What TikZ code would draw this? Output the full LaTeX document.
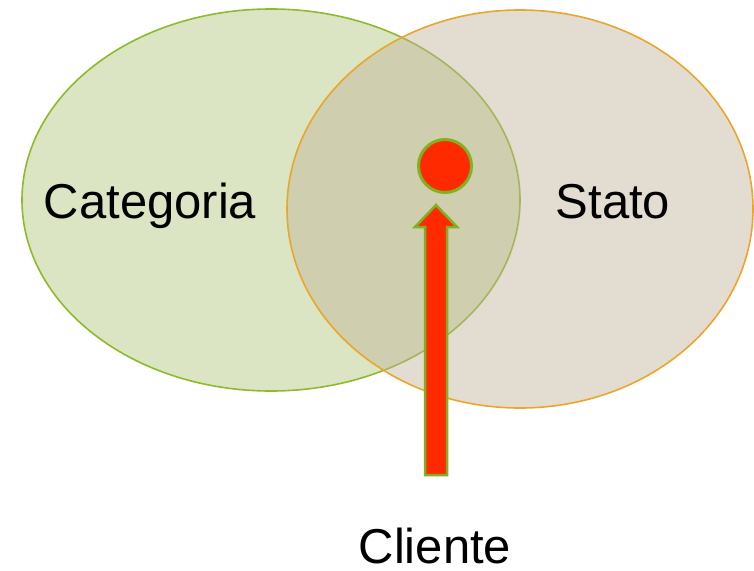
\documentclass[tikz,border=0pt]{standalone}
\usepackage{fontspec}
\setmainfont{Liberation Sans}
\usetikzlibrary{shapes.geometric}
\definecolor{gfill}{RGB}{220,229,195}
\definecolor{gline}{RGB}{141,187,42}
\definecolor{bfill}{RGB}{193,178,151}
\definecolor{oline}{RGB}{234,166,42}
\definecolor{redf}{RGB}{255,42,0}
\definecolor{aline}{RGB}{127,178,30}
\begin{document}
\begin{tikzpicture}[x=1pt,y=-1pt,
  setell/.style={ellipse,inner sep=0pt,line width=1.6pt},
  lbl/.style={font=\fontsize{49}{58}\selectfont,inner sep=0pt},
  redball/.style={circle,fill=redf,draw=aline,line width=3pt,minimum size=53pt,inner sep=0pt}]
\useasboundingbox (0,0) rectangle (754,570);
\node[setell,fill=gfill,draw=gline,minimum width=498pt,minimum height=382pt] (cat) at (271,200) {};
\node[setell,fill=bfill,fill opacity=0.45,draw=oline,minimum width=466pt,minimum height=398pt] (sta) at (520,209) {};
\node[lbl,anchor=base] (catl) at (150,218) {Categoria};
\node[lbl,anchor=base] (stal) at (613,218) {Stato};
\node[lbl,anchor=base] (cli) at (435,563) {Cliente};
\node[redball] (ball) at (445,166) {};
\coordinate (tail) at (436,475);
\coordinate (tip) at (436,205);
\draw[fill=redf,draw=aline,line width=2.5pt,line join=miter]
  ([xshift=-11pt]tail) -- ([xshift=-11pt,yshift=-22pt]tip) -- ([xshift=-21pt,yshift=-22pt]tip)
  -- (tip) -- ([xshift=21pt,yshift=-22pt]tip) -- ([xshift=11pt,yshift=-22pt]tip)
  -- ([xshift=11pt]tail) -- cycle;
\end{tikzpicture}
\end{document}
